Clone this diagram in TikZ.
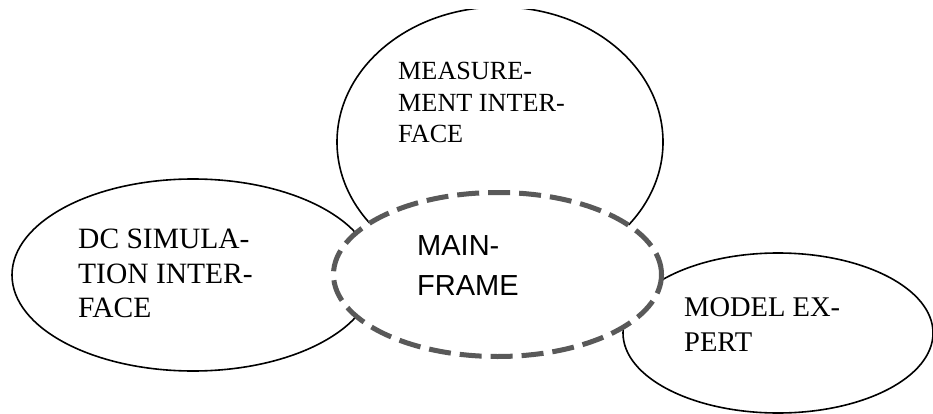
\documentclass[tikz,border=0pt]{standalone}
\usepackage{fontspec}
\setmainfont{Liberation Serif}
\setsansfont{Liberation Sans}
\usetikzlibrary{shapes.geometric}
\begin{document}
\begin{tikzpicture}[x=1pt,y=-1pt,
  bub/.style={ellipse, draw=black, line width=1.6pt, fill=white, inner sep=0pt},
  hub/.style={ellipse, draw=black!65, line width=5pt, fill=white, inner sep=0pt, dash pattern=on 22pt off 9pt},
  lbl/.style={anchor=north west, inner sep=0pt, align=left, text=black}]
\useasboundingbox (0,0) rectangle (933,414);
\fill[white] (0,0) rectangle (933,414);
\begin{scope}
\clip (0,10) rectangle (933,414);
\node[bub, minimum width=326pt, minimum height=270pt] (meas) at (500,142) {};
\node[bub, minimum width=362pt, minimum height=192pt] (dc) at (193,275) {};
\node[bub, minimum width=310pt, minimum height=160pt] (model) at (778,333) {};
\node[hub, minimum width=328pt, minimum height=164pt] (main) at (497.5,274.5) {};
\end{scope}
\node[lbl, font=\fontsize{26.2}{31.5}\selectfont] (measT) at (398,62) {MEASURE-\\MENT INTER-\\FACE};
\node[lbl, font=\fontsize{29.5}{34.5}\selectfont] (dcT) at (78,229) {DC SIMULA-\\TION INTER-\\FACE};
\node[lbl, font=\fontsize{28.5}{35}\selectfont] (modelT) at (684,297) {MODEL EX-\\PERT};
\node[lbl, font=\sffamily\fontsize{29}{40}\selectfont] (mainT) at (417,235) {MAIN-\\FRAME};
\end{tikzpicture}
\end{document}
